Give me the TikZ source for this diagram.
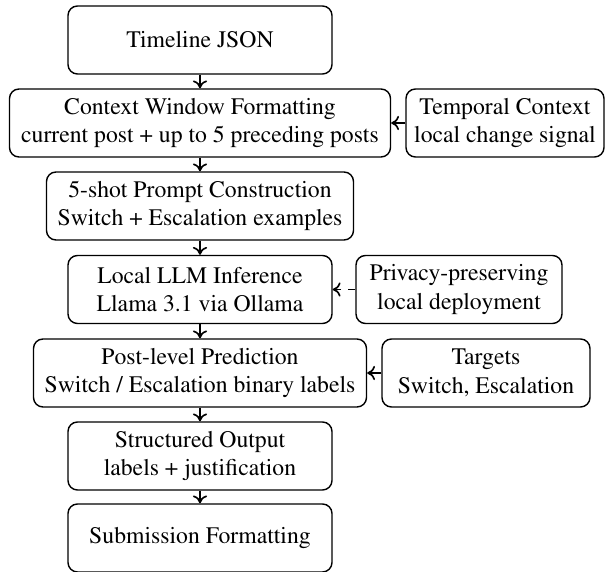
\documentclass[tikz,border=0pt]{standalone}
\usepackage[T1]{fontenc}
\usepackage{mathptmx}
\usetikzlibrary{arrows.meta}
\begin{document}
\begin{tikzpicture}[x=0.422pt,y=-0.422pt,
  box/.style={draw, line width=0.6pt, rounded corners=4pt, align=center, minimum height=28.7pt,
    inner sep=0pt, font=\fontsize{10}{12}\selectfont},
  flow/.style={-{To[length=3.3pt,width=6pt]}, line width=0.7pt},
  dflow/.style={flow, dash pattern=on 3pt off 3pt}]
\useasboundingbox (0,0) rectangle (607,572);
\node[box, minimum width=264*0.422pt] (tl) at (200,40) {Timeline JSON};
\node[box, minimum width=381*0.422pt] (cw) at (200,123) {Context Window Formatting\\current post + up to 5 preceding posts};
\node[box, minimum width=198*0.422pt] (tc) at (505,123) {Temporal Context\\local change signal};
\node[box, minimum width=307*0.422pt] (fs) at (200,206) {5-shot Prompt Construction\\Switch + Escalation examples};
\node[box, minimum width=264*0.422pt] (ll) at (200,289.5) {Local LLM Inference\\Llama 3.1 via Ollama};
\node[box, minimum width=206*0.422pt] (pp) at (459,289.5) {Privacy-preserving\\local deployment};
\node[box, minimum width=333*0.422pt] (pl) at (200,373) {Post-level Prediction\\Switch / Escalation binary labels};
\node[box, minimum width=208*0.422pt] (tg) at (486,373) {Targets\\Switch, Escalation};
\node[box, minimum width=264*0.422pt] (so) at (200,456) {Structured Output\\labels + justification};
\node[box, minimum width=264*0.422pt] (sf) at (200,538) {Submission Formatting};
\draw[flow] (tl) -- (cw);
\draw[flow] (cw) -- (fs);
\draw[flow] (fs) -- (ll);
\draw[flow] (ll) -- (pl);
\draw[flow] (pl) -- (so);
\draw[flow] (so) -- (sf);
\draw[flow] (tc) -- (cw);
\draw[dflow] (pp) -- (ll);
\draw[flow] (tg) -- (pl);
\end{tikzpicture}
\end{document}
